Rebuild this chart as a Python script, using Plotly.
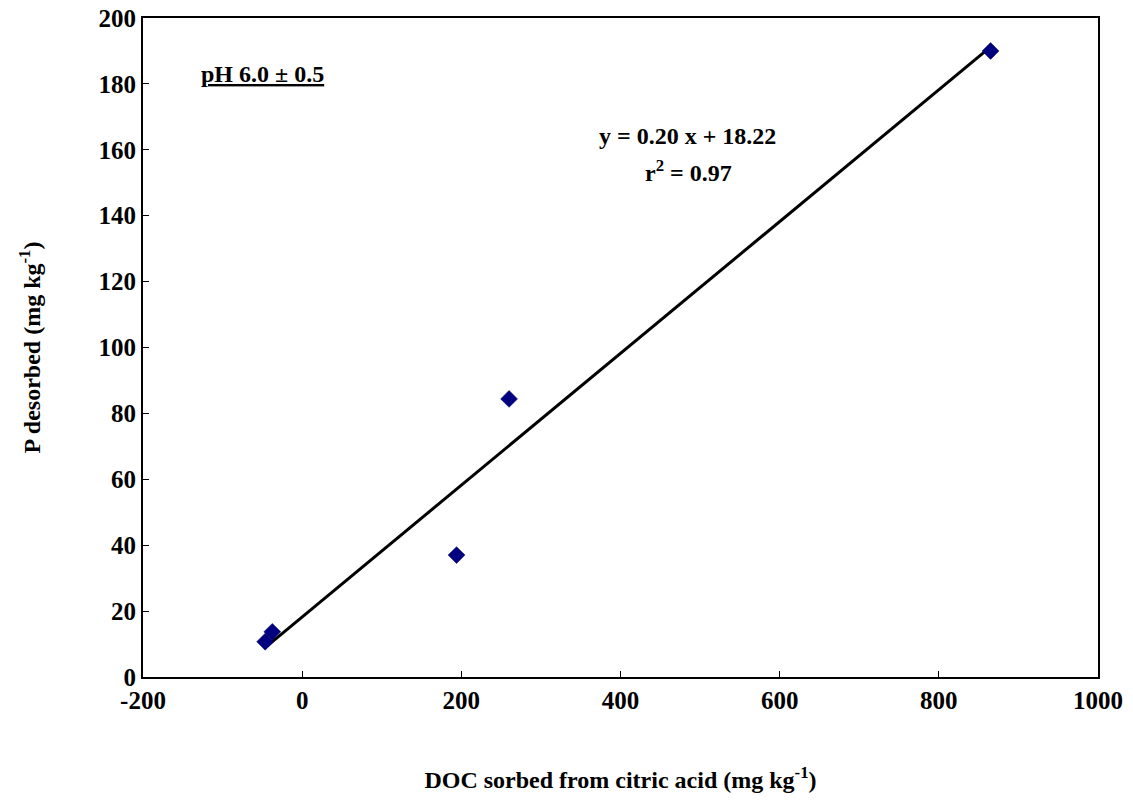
import plotly.graph_objects as go

# Data
doc_sorbed = [-46.5, -37.5, 194.0, 260.0, 865.0]
p_desorbed = [10.7, 13.7, 37.0, 84.4, 190.0]

slope = 0.20
intercept = 18.22
r2 = 0.97
fit_x = [min(doc_sorbed), max(doc_sorbed)]
fit_y = [slope * v + intercept for v in fit_x]

x_ticks = [-200, 0, 200, 400, 600, 800, 1000]
y_ticks = [0, 20, 40, 60, 80, 100, 120, 140, 160, 180, 200]

FONT = "Liberation Serif"

fig = go.Figure()
fig.add_trace(go.Scatter(
    x=fit_x, y=fit_y, mode="lines",
    line=dict(color="black", width=3), showlegend=False, hoverinfo="skip"))
fig.add_trace(go.Scatter(
    x=doc_sorbed, y=p_desorbed, mode="markers",
    marker=dict(symbol="diamond", size=13, color="#000080",
                line=dict(color="#000060", width=0.5)),
    showlegend=False))

axis_common = dict(
    showline=True, linecolor="black", linewidth=2, mirror=True,
    ticks="inside", ticklen=6, tickwidth=1, tickcolor="black",
    showgrid=False, zeroline=False, automargin=False,
    tickfont=dict(family=FONT, size=25, color="black", weight="bold"),
)

fig.update_xaxes(
    range=[-200, 1000], tickvals=x_ticks, ticktext=[str(v) for v in x_ticks],
    title=dict(text="<b>DOC sorbed from citric acid (mg kg<sup>-1</sup>)</b>",
               font=dict(family=FONT, size=24, color="black"), standoff=58),
    **axis_common)
fig.update_yaxes(
    range=[0, 200], tickvals=y_ticks, ticktext=[str(v) for v in y_ticks],
    title=dict(text="<b>P desorbed (mg kg<sup>-1</sup>)</b>",
               font=dict(family=FONT, size=24, color="black"), standoff=51),
    **axis_common)

fig.add_annotation(
    x=-130, y=183, xref="x", yref="y", xanchor="left", yanchor="middle",
    text="<b><span style='text-decoration:underline'>pH 6.0 ± 0.5</span></b>",
    showarrow=False, font=dict(family=FONT, size=24, color="black"))
fig.add_annotation(
    x=484, y=164.3, xref="x", yref="y", xanchor="center", yanchor="middle",
    text=f"<b>y = {slope:.2f} x + {intercept:.2f}</b>",
    showarrow=False, font=dict(family=FONT, size=24, color="black"))
fig.add_annotation(
    x=485, y=153.5, xref="x", yref="y", xanchor="center", yanchor="middle",
    text=f"<b>r<sup>2</sup> = {r2:.2f}</b>",
    showarrow=False, font=dict(family=FONT, size=24, color="black"))

fig.update_layout(
    width=1133, height=800,
    margin=dict(l=143, r=35, t=18, b=123),
    paper_bgcolor="white", plot_bgcolor="white",
    font=dict(family=FONT, color="black"),
)

fig.write_html("out.html")
